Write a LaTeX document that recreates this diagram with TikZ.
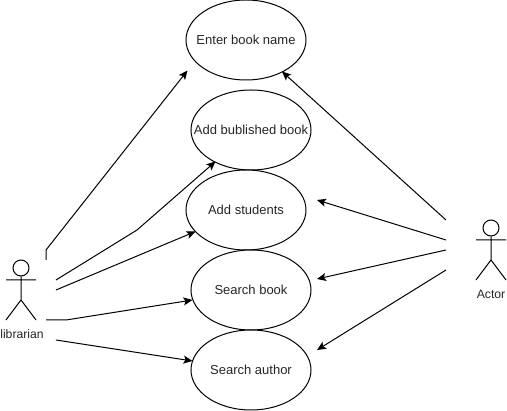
\documentclass[tikz,border=0pt]{standalone}
\usepackage{fontspec}
\setmainfont{Liberation Sans}
\usetikzlibrary{shapes.geometric,arrows.meta}
\tikzset{
  usecase/.style={draw=black,fill=white,ellipse,line width=1pt,minimum width=120pt,minimum height=80pt,inner sep=0pt,font=\fontsize{13}{15}\selectfont,text=black!85},
  link/.style={draw=black,line width=1pt,-{Stealth[length=9pt,width=8pt,inset=2pt]}},
  figure/.style={draw=black,line width=1pt},
  figlabel/.style={font=\fontsize{12.2}{14}\selectfont,text=black!85,inner sep=0pt},
  head/.style={draw=black,line width=1pt,circle,minimum size=16pt,inner sep=0pt}
}
\newcommand{\casetext}[1]{\makebox[0pt]{\raisebox{-0.8pt}{#1}}}
\begin{document}
\begin{tikzpicture}[x=1pt,y=-1pt]
\useasboundingbox (0,0) rectangle (507,411);
\fill[white] (0,0) rectangle (507,411);
% use cases
\node[usecase] (name) at (246,40) {\casetext{Enter book name}};
\node[usecase] (pub) at (251,130) {\casetext{Add bublished book}};
\node[usecase] (stud) at (246,210) {\casetext{Add students}};
\node[usecase] (sbook) at (251,290) {\casetext{Search book}};
\node[usecase] (sauth) at (251,370) {\casetext{Search author}};
% librarian
\node[head] (h1) at (21,268) {};
\draw[figure] (h1.south) -- (21,300) coordinate (c1) (6,280) -- (36,280) (6,320) -- (c1) -- (36,320);
\node[figlabel] (l1) at (22,334.5) {librarian};
% actor
\node[head] (h2) at (491,228) {};
\draw[figure] (h2.south) -- (491,260) coordinate (c2) (476,240) -- (506,240) (476,280) -- (c2) -- (506,280);
\node[figlabel] (l2) at (491,294.5) {Actor};
% free ends
\coordinate (a1s) at (46,260); \coordinate (a1b) at (46,250); \coordinate (a1e) at (187.5,70.5);
\coordinate (a2s) at (56,280); \coordinate (a2b) at (137,230); \coordinate (a2e) at (215.5,161.5);
\coordinate (a3s) at (56,290); \coordinate (a3e) at (195.5,231.5);
\coordinate (a4s) at (46,320); \coordinate (a4b) at (66,320); \coordinate (a4e) at (192.5,300);
\coordinate (a5s) at (56,340); \coordinate (a5e) at (192.5,361);
\coordinate (b1s) at (446,220); \coordinate (b1e) at (282,71.5);
\coordinate (b2s) at (446,240); \coordinate (b2e) at (317,200);
\coordinate (b3s) at (446,250); \coordinate (b3e) at (317,279);
\coordinate (b4s) at (446,270); \coordinate (b4e) at (317,350);
\draw[link] (a1s) -- (a1b) -- (a1e);
\draw[link] (a2s) -- (a2b) -- (a2e);
\draw[link] (a3s) -- (a3e);
\draw[link] (a4s) -- (a4b) -- (a4e);
\draw[link] (a5s) -- (a5e);
\draw[link] (b1s) -- (b1e);
\draw[link] (b2s) -- (b2e);
\draw[link] (b3s) -- (b3e);
\draw[link] (b4s) -- (b4e);
\end{tikzpicture}
\end{document}
